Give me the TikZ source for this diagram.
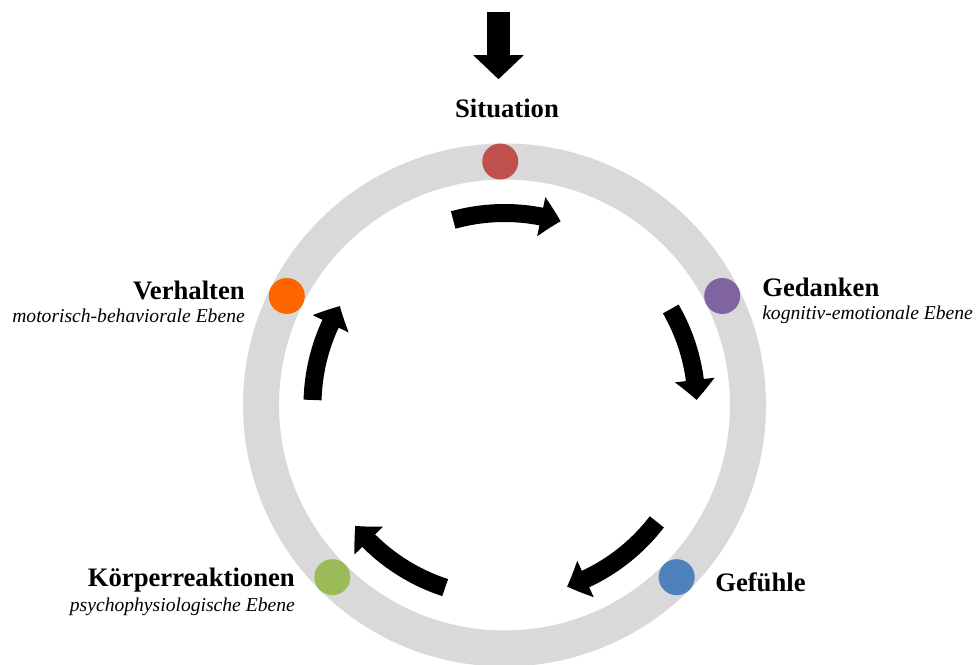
\documentclass[tikz,border=0pt]{standalone}
\usepackage{fontspec}
\setmainfont{Liberation Serif}
\usetikzlibrary{arrows.meta, bending, positioning, calc}

\definecolor{ringgray}{HTML}{D9D9D9}
\definecolor{sitred}{HTML}{C0504D}
\definecolor{gedpurple}{HTML}{8064A2}
\definecolor{gefblue}{HTML}{4F81BD}
\definecolor{koegreen}{HTML}{9BBB59}
\definecolor{verorange}{HTML}{FF6600}

\begin{document}
\begin{tikzpicture}[
    x=0.75pt, y=0.75pt,
    ring/.style={draw=ringgray, line width=27pt},
    dot/.style={circle, minimum size=27pt, inner sep=0pt},
    cyc/.style={line width=13.5pt, -{Triangle[width=29pt, length=15pt, bend]}},
    inarrow/.style={line width=17.25pt, -{Triangle[width=36.75pt, length=18pt]}},
    lab/.style={font=\fontsize{20}{24}\selectfont\bfseries, inner sep=0pt},
    sub/.style={font=\fontsize{14.7}{17}\selectfont\itshape, inner sep=0pt}
]

% White background, fixes the picture size
\path [fill=white] (0,0) rectangle (978,664);
\useasboundingbox (0,0) rectangle (978,664);

% ==================== RING ====================

\coordinate (c) at (504.5,259);
\draw[ring] (c) circle[radius=243.5];

% Dots on the ring
\node[dot, fill=sitred] (sitdot) at ([shift={(91:243.5)}]c) {};
\node[dot, fill=gedpurple] (geddot) at ([shift={(26.6:243.5)}]c) {};
\node[dot, fill=gefblue] (gefdot) at ([shift={(-45:243.5)}]c) {};
\node[dot, fill=koegreen] (koedot) at ([shift={(-135:243.5)}]c) {};
\node[dot, fill=verorange] (verdot) at ([shift={(153.4:243.5)}]c) {};

% ==================== LABELS ====================

\node[lab, anchor=base] (sit) at (507,546) {Situation};

\node[lab, anchor=base west] (ged) at (762,367) {Gedanken};
\node[sub, anchor=base west] (gedsub) at (762,344) {kognitiv-emotionale Ebene};

\node[lab, anchor=base west] (gef) at (715,72) {Gefühle};

\node[lab, anchor=base east] (koe) at (295,77) {Körperreaktionen};
\node[sub, anchor=base east] (koesub) at (295,52) {psychophysiologische Ebene};

\node[lab, anchor=base east] (ver) at (245,364) {Verhalten};
\node[sub, anchor=base east] (versub) at (245,341) {motorisch-behaviorale Ebene};

% ==================== ARROWS ====================

% Input arrow down to the situation
\coordinate (in) at (498.5,652);
\draw[inarrow] (in) -- ($(in |- sit.north)+(0,20)$);

% Cycle arrows inside the ring
\foreach \a/\b in {105.5/73, 30/1.5, -37.5/-71, -108/-141, 178.5/149}
    \draw[cyc] ([shift={(\a:192)}]c) arc[start angle=\a, end angle=\b, radius=192];

\end{tikzpicture}
\end{document}
